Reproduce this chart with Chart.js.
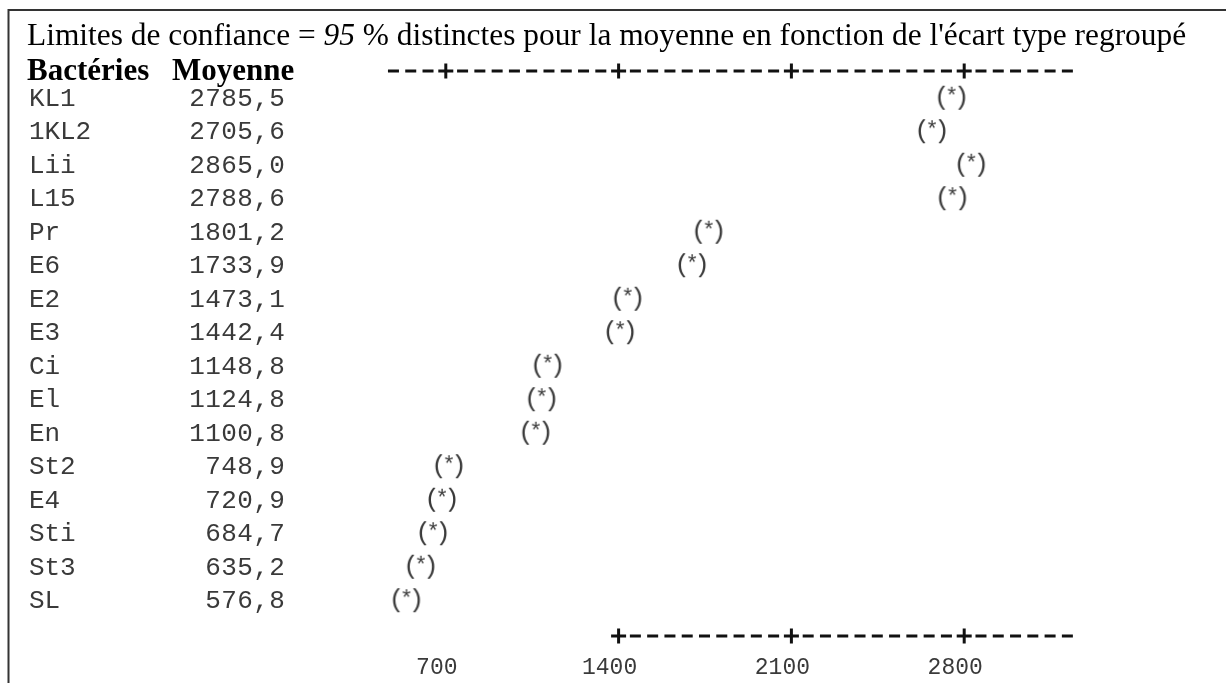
<!DOCTYPE html>
<html lang="fr">
<head>
<meta charset="utf-8">
<title>Limites de confiance</title>
<script src="https://cdn.jsdelivr.net/npm/chart.js@4/dist/chart.umd.min.js"></script>
<style>
  html, body { margin: 0; padding: 0; background: #fff; }
  #wrap { position: relative; width: 1226px; height: 683px; }
</style>
</head>
<body>
<div id="wrap"><canvas id="ci-canvas" width="1226" height="683"></canvas></div>
<script>
var bacteria = ['KL1', '1KL2', 'Lii', 'L15', 'Pr', 'E6', 'E2', 'E3', 'Ci', 'El', 'En', 'St2', 'E4', 'Sti', 'St3', 'SL'];
var means = [2785.5, 2705.6, 2865.0, 2788.6, 1801.2, 1733.9, 1473.1, 1442.4, 1148.8, 1124.8, 1100.8, 748.9, 720.9, 684.7, 635.2, 576.8];
var tickValues = [700, 1400, 2100, 2800];

var titleParts = [
    { text: 'Limites de confiance = ', italic: false },
    { text: '95', italic: true },
    { text: ' % distinctes pour la moyenne en fonction de l\'écart type regroupé', italic: false }
];
var headers = ['Bactéries', 'Moyenne'];

var monoFont = '"Liberation Mono", "DejaVu Sans Mono", monospace';
var serifFont = '"Liberation Serif", "Times New Roman", serif';
var inkColor = '#3a3a3a';

// "(*)" marker used as the point style
function makeMeanMark() {
    var c = document.createElement('canvas');
    c.width = 34;
    c.height = 32;
    var g = c.getContext('2d');
    g.fillStyle = inkColor;
    g.textAlign = 'center';
    g.textBaseline = 'middle';
    g.font = '26px ' + monoFont;
    g.fillText('(', 7, 16);
    g.fillText(')', 27, 16);
    g.font = '22px ' + monoFont;
    g.fillText('*', 17, 15);
    return c;
}

// draws a string one character per fixed-width cell
function drawCells(ctx, str, x, y, cell) {
    for (var i = 0; i < str.length; i++) {
        ctx.fillText(str[i], x + cell * i + cell / 2, y);
    }
}

function formatMean(v) {
    return v.toFixed(1).replace('.', ',');
}

// text ruler: "+" on each tick, dashes in the cells between
function drawRuler(ctx, xScale, y, firstCell, lastCell) {
    var p0 = xScale.getPixelForValue(tickValues[0]) + 9;
    var p1 = xScale.getPixelForValue(tickValues[1]) + 9;
    var cell = (p1 - p0) / 10;
    var lastPlus = (tickValues.length - 1) * 10;
    ctx.save();
    ctx.strokeStyle = '#111';
    ctx.lineWidth = 3;
    ctx.beginPath();
    for (var j = firstCell; j <= lastCell; j++) {
        var cx = p0 + j * cell;
        if (j % 10 === 0 && j >= 0 && j <= lastPlus) {
            ctx.moveTo(cx - 7.5, y);
            ctx.lineTo(cx + 7.5, y);
            ctx.moveTo(cx, y - 7.5);
            ctx.lineTo(cx, y + 7.5);
        } else {
            ctx.moveTo(cx - 6, y);
            ctx.lineTo(cx + 5, y);
        }
    }
    ctx.stroke();
    ctx.restore();
}

var textPanel = {
    id: 'textPanel',
    beforeDraw: function(chart) {
        var ctx = chart.ctx;
        var xScale = chart.scales.x;
        var yScale = chart.scales.y;

        ctx.save();
        ctx.fillStyle = '#fff';
        ctx.fillRect(0, 0, chart.width, chart.height);

        // frame
        ctx.strokeStyle = '#333';
        ctx.lineWidth = 2;
        ctx.beginPath();
        ctx.moveTo(8.5, chart.height);
        ctx.lineTo(8.5, 10);
        ctx.lineTo(chart.width, 10);
        ctx.stroke();

        // title line
        ctx.fillStyle = '#000';
        ctx.textAlign = 'left';
        ctx.textBaseline = 'alphabetic';
        var tx = 27;
        titleParts.forEach(function(p) {
            ctx.font = (p.italic ? 'italic ' : '') + '31.4px ' + serifFont;
            ctx.fillText(p.text, tx, 45);
            tx += ctx.measureText(p.text).width;
        });

        // column headers
        ctx.font = 'bold 31px ' + serifFont;
        ctx.fillText(headers[0], 27, 80);
        ctx.fillText(headers[1], 172, 80);

        // rulers
        drawRuler(ctx, xScale, 71, -3, 36);
        drawRuler(ctx, xScale, 636, 10, 36);

        // names and means
        ctx.fillStyle = inkColor;
        ctx.font = '26px ' + monoFont;
        ctx.textAlign = 'center';
        ctx.textBaseline = 'middle';
        bacteria.forEach(function(name, i) {
            var y = yScale.getPixelForValue(i) + 1;
            drawCells(ctx, name, 29, y, 15.5);
            var s = formatMean(means[i]);
            drawCells(ctx, s, 285 - s.length * 16, y, 16);
        });
        ctx.restore();
    }
};

var ctx = document.getElementById('ci-canvas').getContext('2d');

var chart = new Chart(ctx, {
    type: 'scatter',
    data: {
        datasets: [{
            label: 'Moyenne',
            data: means.map(function(m, i) { return { x: m, y: bacteria[i] }; }),
            pointStyle: makeMeanMark(),
            pointRadius: 16,
            showLine: false
        }]
    },
    options: {
        responsive: false,
        animation: false,
        devicePixelRatio: 1,
        layout: {
            padding: { left: 264, right: 98, top: 81, bottom: 0 }
        },
        plugins: {
            legend: { display: false },
            tooltip: { enabled: false }
        },
        scales: {
            x: {
                type: 'linear',
                min: 0,
                max: 3500,
                position: 'bottom',
                grid: { display: false, drawTicks: false },
                border: { display: false },
                afterBuildTicks: function(scale) {
                    scale.ticks = tickValues.map(function(v) { return { value: v }; });
                },
                afterFit: function(scale) {
                    scale.height = 66;
                },
                ticks: {
                    autoSkip: false,
                    maxRotation: 0,
                    padding: 37,
                    color: inkColor,
                    font: { family: 'Liberation Mono', size: 23 },
                    callback: function(v) { return String(v); }
                }
            },
            y: {
                type: 'category',
                labels: bacteria,
                offset: true,
                display: false
            }
        }
    },
    plugins: [textPanel]
});
</script>
</body>
</html>
